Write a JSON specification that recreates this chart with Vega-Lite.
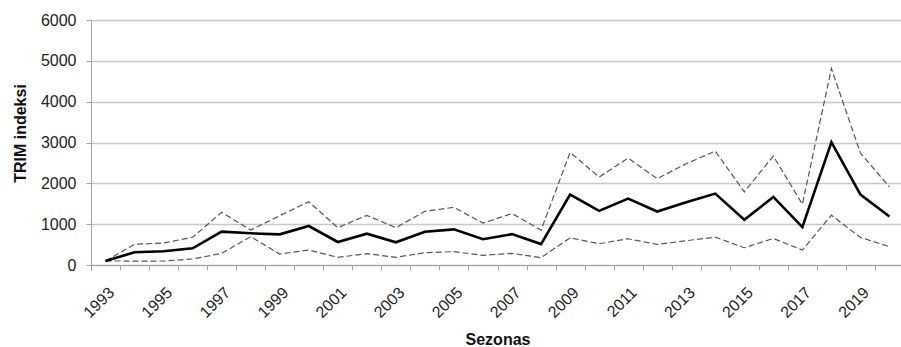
{
  "$schema": "https://vega.github.io/schema/vega-lite/v6.json",
  "autosize": "none",
  "padding": {"left": 91, "top": 20, "right": 0, "bottom": 82},
  "width": 813,
  "height": 245,
  "background": "white",
  "config": {
    "view": {"stroke": null},
    "font": "Liberation Sans",
    "axis": {"labelFont": "Liberation Sans", "titleFont": "Liberation Sans", "labelColor": "#222", "titleColor": "#111"}
  },
  "data": {
    "values": [
      {"year": 1993, "index": 100, "lower": 100, "upper": 100},
      {"year": 1994, "index": 311, "lower": 95, "upper": 506},
      {"year": 1995, "index": 335, "lower": 98, "upper": 539},
      {"year": 1996, "index": 408, "lower": 147, "upper": 678},
      {"year": 1997, "index": 816, "lower": 286, "upper": 1290},
      {"year": 1998, "index": 776, "lower": 694, "upper": 857},
      {"year": 1999, "index": 751, "lower": 269, "upper": 1208},
      {"year": 2000, "index": 955, "lower": 367, "upper": 1551},
      {"year": 2001, "index": 563, "lower": 188, "upper": 914},
      {"year": 2002, "index": 767, "lower": 278, "upper": 1216},
      {"year": 2003, "index": 555, "lower": 188, "upper": 914},
      {"year": 2004, "index": 816, "lower": 302, "upper": 1314},
      {"year": 2005, "index": 873, "lower": 327, "upper": 1412},
      {"year": 2006, "index": 632, "lower": 236, "upper": 1025},
      {"year": 2007, "index": 756, "lower": 285, "upper": 1260},
      {"year": 2008, "index": 512, "lower": 179, "upper": 854},
      {"year": 2009, "index": 1724, "lower": 667, "upper": 2756},
      {"year": 2010, "index": 1325, "lower": 520, "upper": 2154},
      {"year": 2011, "index": 1626, "lower": 642, "upper": 2618},
      {"year": 2012, "index": 1309, "lower": 504, "upper": 2114},
      {"year": 2013, "index": 1537, "lower": 594, "upper": 2480},
      {"year": 2014, "index": 1748, "lower": 683, "upper": 2789},
      {"year": 2015, "index": 1106, "lower": 423, "upper": 1789},
      {"year": 2016, "index": 1667, "lower": 650, "upper": 2667},
      {"year": 2017, "index": 927, "lower": 366, "upper": 1488},
      {"year": 2018, "index": 3008, "lower": 1220, "upper": 4813},
      {"year": 2019, "index": 1724, "lower": 675, "upper": 2740},
      {"year": 2020, "index": 1187, "lower": 447, "upper": 1911}
    ]
  },
  "encoding": {
    "x": {
      "field": "year",
      "type": "ordinal",
      "scale": {"type": "band", "paddingInner": 0, "paddingOuter": 0},
      "axis": {
        "title": "Sezonas",
        "titleFontSize": 16,
        "titleFontWeight": "bold",
        "titlePadding": 11,
        "labelAngle": -45,
        "labelFontSize": 16,
        "labelPadding": 14,
        "labelExpr": "datum.value % 2 == 1 ? datum.label : ''",
        "tickBand": "extent",
        "tickSize": 5,
        "tickColor": "#a0a0a0",
        "domainColor": "#a0a0a0",
        "grid": false
      }
    }
  },
  "layer": [
    {
      "mark": {"type": "line", "color": "#555", "strokeWidth": 1.2, "strokeDash": [6, 3]},
      "encoding": {
        "y": {
          "field": "upper",
          "type": "quantitative",
          "scale": {"domain": [0, 6000], "nice": false},
          "axis": {
            "title": "TRIM indeksi",
            "titleFontSize": 16,
            "titleFontWeight": "bold",
            "titlePadding": 12,
            "titleY": 113,
            "values": [0, 1000, 2000, 3000, 4000, 5000, 6000],
            "format": "d",
            "labelFontSize": 16,
            "labelPadding": 10,
            "tickSize": 5,
            "tickColor": "#a0a0a0",
            "domainColor": "#a0a0a0",
            "grid": true,
            "gridColor": "#c8c8c8",
            "gridWidth": 1.3
          }
        }
      }
    },
    {
      "mark": {"type": "line", "color": "#555", "strokeWidth": 1.2, "strokeDash": [6, 3]},
      "encoding": {"y": {"field": "lower", "type": "quantitative"}}
    },
    {
      "mark": {"type": "line", "color": "#000", "strokeWidth": 2.6},
      "encoding": {"y": {"field": "index", "type": "quantitative"}}
    }
  ]
}
